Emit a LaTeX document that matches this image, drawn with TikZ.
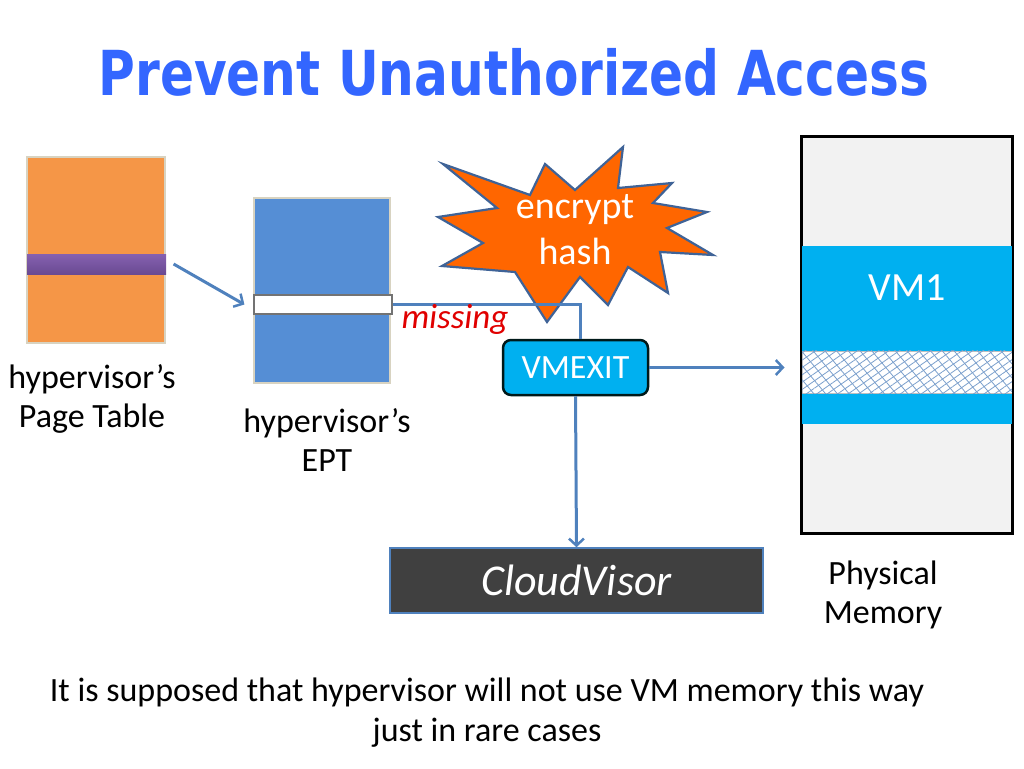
\documentclass[tikz,border=0pt]{standalone}
\usepackage{fontspec}
\setmainfont{Carlito}
\newfontfamily\titlefont{DejaVu Sans Condensed}
\usetikzlibrary{positioning, arrows.meta, calc, patterns.meta}
\definecolor{ttlblue}{HTML}{3366FF}
\definecolor{ptorange}{HTML}{F59647}
\definecolor{ptpurple}{HTML}{8561B0}
\definecolor{ptpurpledk}{HTML}{6A4A92}
\definecolor{eptblue}{HTML}{558ED5}
\definecolor{vmcyan}{HTML}{00B0F0}
\definecolor{linkblue}{HTML}{4F81BD}
\definecolor{starorange}{HTML}{FF6600}
\definecolor{staredge}{HTML}{3F6397}
\definecolor{pagegray}{HTML}{F2F2F2}
\definecolor{cvgray}{HTML}{404040}
\definecolor{beige}{HTML}{D8D3C1}
\definecolor{missred}{HTML}{E00000}

\begin{document}
\begin{tikzpicture}[x=1pt, y=-1pt,
        table/.style={draw=beige, line width=1.5pt, inner sep=0pt},
        entry/.style={inner sep=0pt, line width=1.2pt},
        lbl/.style={align=center, font=\fontsize{34}{39}\selectfont},
        arr/.style={-{Straight Barb[length=7pt, width=15pt, line width=2.5pt]}, line width=3pt, linkblue},
        link/.style={line width=3pt, linkblue}
    ]
    \useasboundingbox (0,0) rectangle (1024,768);

    % Title
    \node[font=\titlefont\bfseries\fontsize{62}{68}\selectfont, text=ttlblue] (title) at (514,72)
        {\scalebox{0.9}[1]{Prevent Unauthorized Access}};

    % Page table and EPT
    \node[table, fill=ptorange, minimum width=138, minimum height=186] (pt) at (96,250) {};
    \node[entry, top color=ptpurple, bottom color=ptpurpledk, minimum width=139, minimum height=20] (ptbar) at (96.5,264) {};
    \node[table, fill=eptblue, minimum width=136, minimum height=185] (ept) at (322,290.5) {};
    \node[entry, draw=black!55, fill=white, minimum width=138, minimum height=19] (eptbar) at (323,304.5) {};

    \node[lbl] (ptlbl) at (92,399) {hypervisor's\\Page Table};
    \node[lbl] (eptlbl) at (327,440) {hypervisor's\\EPT};

    % Encrypt / hash burst
    \draw[fill=starorange, draw=staredge, line width=2.2pt]
        (443,164) -- (530,195) -- (545,164) -- (575,190) -- (623,147) -- (618,188)
        -- (672,183) -- (653,203) -- (707,212) -- (667,228) -- (713,255) -- (660,252)
        -- (668,293) -- (628,267) -- (608,305) -- (580,277) -- (547,322) -- (515,272)
        -- (442,266) -- (483,243) -- (438,217) -- (497,208) -- cycle;
    \node[lbl, text=white, font=\fontsize{38}{46}\selectfont] (burst) at (575,230) {encrypt\\hash};

    % VMEXIT and CloudVisor
    \node[draw=black!80!teal, line width=2.5pt, fill=vmcyan, rounded corners=8pt, text=white,
          minimum width=145, minimum height=55, inner sep=0pt, font=\fontsize{34}{38}\selectfont] (vmexit) at (575.5,367.5) {VMEXIT};
    \node[draw=linkblue, line width=1.5pt, fill=cvgray, text=white, minimum width=373, minimum height=65,
          inner sep=0pt, font=\itshape\fontsize{44}{48}\selectfont] (cv) at (576.5,580.5) {CloudVisor};

    % Physical memory
    \node[draw=black, line width=2pt, fill=pagegray, minimum width=210, minimum height=396, inner sep=0pt] (mem) at (907,335) {};
    \node[fill=vmcyan, minimum width=210, minimum height=178, inner sep=0pt] (vm) at (907,335) {};
    \node[text=white, font=\fontsize{40}{44}\selectfont] (vmlbl) at (907,288) {VM1};
    \node[draw=black!25, line width=1pt, fill=white, minimum width=210, minimum height=42, inner sep=0pt] (hatch) at (907,372) {};
    \fill[pattern={Lines[angle=35, distance=6pt, line width=0.8pt]}, pattern color=linkblue!75]
        (hatch.south west) rectangle (hatch.north east);
    \fill[pattern={Lines[angle=-50, distance=9pt, line width=0.8pt]}, pattern color=linkblue!75]
        (hatch.south west) rectangle (hatch.north east);
    \draw[black, line width=2pt] (mem.north west) rectangle (mem.south east);
    \node[lbl] (memlbl) at (883,595) {Physical\\Memory};

    % Connectors
    \draw[arr] ([xshift=7]ptbar.east) -- ([xshift=-9]eptbar.west);
    \draw[link] (eptbar.east) -| ([xshift=4.5]vmexit.north);
    \node[text=missred, font=\itshape\fontsize{35}{38}\selectfont] (miss) at (455,319) {missing};
    \draw[arr] (vmexit.east) -- ([xshift=-17]vmexit.east -| hatch.west);
    \draw[arr] (vmexit.south) -- (cv.north);

    % Note
    \node[lbl, font=\fontsize{34}{40}\selectfont] (note) at (487,713) {It is supposed that hypervisor will not use VM memory this way\\just in rare cases};
\end{tikzpicture}
\end{document}
